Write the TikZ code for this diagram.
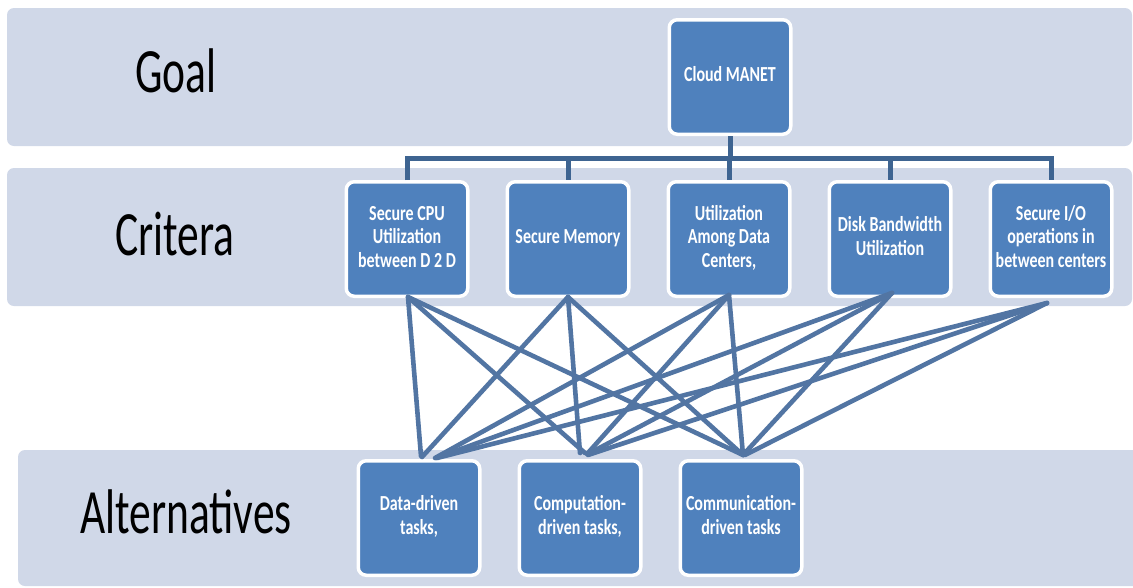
\documentclass[tikz,border=0pt]{standalone}
\usepackage{fontspec}
\setmainfont{Carlito}
\usetikzlibrary{calc}
\definecolor{bandfill}{HTML}{D0D8E8}
\definecolor{boxfill}{HTML}{4F81BD}
\definecolor{treeline}{RGB}{62,100,145}
\definecolor{linkline}{RGB}{82,117,163}
% multi-line box caption, slightly stretched vertically
\newcommand\boxlines[1]{\scalebox{1}[1.34]{\begin{tabular}{@{}c@{}}#1\end{tabular}}}
% large tier heading
\newcommand\tierlabel[1]{\scalebox{1}[1.45]{#1}}

\begin{document}
\begin{tikzpicture}[x=1pt,y=-1pt,
  band/.style={fill=bandfill, rounded corners=7pt},
  item/.style={draw=white, line width=3.5pt, fill=boxfill, rounded corners=8pt,
    minimum width=121.5pt, minimum height=114.5pt, inner sep=0pt, text=white,
    font=\fontsize{16}{17.5}\selectfont\bfseries},
  tier/.style={anchor=base west, inner sep=0pt, font=\fontsize{43.5}{50}\selectfont},
  tree/.style={draw=treeline, line width=5pt},
  link/.style={draw=linkline, line width=4.6pt, line cap=round}]

\useasboundingbox (0,0) rectangle (1133,587);
\clip (0,0) rectangle (1133,587);
\fill[white] (0,0) rectangle (1133,587);

% tier bands
\fill[band] (7,8) rectangle (1132,146);
\fill[band] (7,168) rectangle (1132,306);
\fill[band] (18,450) rectangle (1145,586);

% tier headings
\node[tier] (lgoal) at (135,92) {\tierlabel{Goal}};
\node[tier] (lcrit) at (115,255) {\tierlabel{Critera}};
\node[tier] (lalt)  at (80,533)  {\tierlabel{Alternatives}};

% goal
\node[item] (cloud) at (730,77) {\boxlines{Cloud MANET}};

% criteria
\node[item] (c1) at (407,239)  {\boxlines{Secure CPU\\Utilization\\between D 2 D}};
\node[item] (c2) at (568,239)  {\boxlines{Secure Memory}};
\node[item] (c3) at (729,239)  {\boxlines{Utilization\\Among Data\\Centers,}};
\node[item] (c4) at (890,239)  {\boxlines{Disk Bandwidth\\Utilization}};
\node[item] (c5) at (1051,239) {\boxlines{Secure I/O\\operations in\\between centers}};

% alternatives
\node[item] (a1) at (419,518) {\boxlines{Data-driven\\tasks,}};
\node[item] (a2) at (580,518) {\boxlines{Computation-\\driven tasks,}};
\node[item] (a3) at (741,518) {\boxlines{Communication-\\driven tasks}};

% goal-to-criteria tree
\coordinate (bar) at (0,158);
\draw[tree] (cloud.south) -- (cloud.south |- bar);
\draw[tree] (c1.north) -- (c1.north |- bar) -- (c5.north |- bar) -- (c5.north);
\foreach \c in {c2,c3,c4}
  \draw[tree] (\c.north |- bar) -- (\c.north);

% criteria-to-alternatives links
\foreach \c/\cx/\cy/\a/\ax/\ay in {
  c1/1/-1/a1/2/-3,  c1/1/-1/a2/5/-6,  c1/1/-1/a3/2/-4,
  c2/0/-1/a1/3/-2,  c2/0/-1/a2/0/-6,  c2/0/-1/a3/2/-4,
  c3/0/-3/a1/16/-1, c3/0/-3/a2/7/-5,  c3/0/-3/a3/2/-4,
  c4/2/-5/a1/17/-1, c4/2/-5/a2/8/-5,  c4/2/-5/a3/2/-4,
  c5/-4/5/a1/18/-1, c5/-4/5/a2/8/-4,  c5/-4/5/a3/4/-4}
  \draw[link] ($(\c.south)+(\cx,\cy)$) -- ($(\a.north)+(\ax,\ay)$);

\end{tikzpicture}
\end{document}
